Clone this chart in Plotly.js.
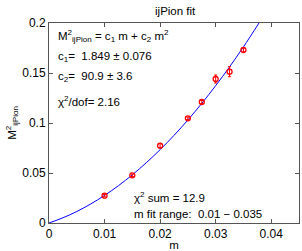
<!DOCTYPE html>
<html><head><meta charset="utf-8">
<script src="https://cdn.plot.ly/plotly-3.0.1.min.js"></script>
<style>html,body{margin:0;padding:0;background:#fff;}</style>
</head><body>
<div id="chart" style="width:302px;height:251px;"></div>
<script>
var mValues = [0.01, 0.015, 0.02, 0.025, 0.0275, 0.03, 0.0325, 0.035];
var m2Values = [0.0273, 0.0477, 0.0773, 0.1047, 0.121, 0.144, 0.1513, 0.173];
var m2Errors = [0.0012, 0.0012, 0.002, 0.0012, 0.0015, 0.004, 0.005, 0.002];
var fitX = [0, 0.0025, 0.005, 0.0075, 0.01, 0.0125, 0.015, 0.0175, 0.02, 0.0225, 0.025, 0.0275, 0.03, 0.0325, 0.035, 0.0378];
var fitY = [0, 0.0052, 0.0115, 0.0190, 0.0276, 0.0373, 0.0482, 0.0602, 0.0733, 0.0876, 0.1030, 0.1196, 0.1373, 0.1561, 0.1761, 0.2];
var xTicks = [0, 0.01, 0.02, 0.03, 0.04];
var yTicks = [0, 0.05, 0.1, 0.15, 0.2];

var font = {family: 'Liberation Sans, Arial, sans-serif', size: 11.5, color: '#000'};
var tickFont = {family: 'Liberation Sans, Arial, sans-serif', size: 12, color: '#000'};
var traces = [
  {x: fitX, y: fitY, mode: 'lines', line: {color: '#0000ff', width: 1, shape: 'spline'}, hoverinfo: 'skip'},
  {x: mValues, y: m2Values, mode: 'markers',
   marker: {symbol: 'circle-open', size: 5, color: '#ff0000', line: {width: 1.3, color: '#ff0000'}},
   error_y: {type: 'data', array: m2Errors, visible: true, color: '#ff0000', thickness: 1, width: 1.5}}
];
function ann(px, py, text) {
  return {xref: 'paper', yref: 'paper', x: (px - 49) / 250, y: (223 - py) / 200, xanchor: 'left', yanchor: 'middle',
    text: text, showarrow: false, font: font};
}
var layout = {
  width: 302, height: 251,
  margin: {l: 49, r: 3, t: 23, b: 28},
  paper_bgcolor: '#fff', plot_bgcolor: '#fff',
  showlegend: false,
  font: font,
  title: {text: 'ijPion fit', font: font, x: 0.58, xanchor: 'center', y: 0.955, yanchor: 'middle'},
  xaxis: {range: [0, 0.045], tickvals: xTicks, ticktext: xTicks.map(String), ticks: 'inside', ticklen: 4,
    showgrid: false, zeroline: false, showline: true, linecolor: '#555', linewidth: 1, mirror: 'ticks', tickcolor: '#555',
    tickfont: tickFont, title: {text: 'm', font: font, standoff: 1}},
  yaxis: {range: [0, 0.2], tickvals: yTicks, ticktext: yTicks.map(String), ticks: 'inside', ticklen: 4,
    showgrid: false, zeroline: false, showline: true, linecolor: '#555', linewidth: 1, mirror: 'ticks', tickcolor: '#555',
    tickfont: tickFont, title: {text: 'M<sup>2</sup><sub>ijPion</sub>', font: font, standoff: 3}},
  annotations: [
    ann(56, 36, 'M<sup>2</sup><sub>ijPion</sub> = c<sub>1</sub> m + c<sub>2</sub> m<sup>2</sup>'),
    ann(56, 57, 'c<sub>1</sub>=  1.849 ± 0.076'),
    ann(56, 77, 'c<sub>2</sub>=  90.9 ± 3.6'),
    ann(56, 101, 'χ<sup>2</sup>/dof= 2.16'),
    ann(132, 197, 'χ<sup>2</sup> sum = 12.9'),
    ann(132, 214, 'm fit range:  0.01 − 0.035')
  ]
};
Plotly.newPlot('chart', traces, layout, {staticPlot: true, displayModeBar: false});
</script>
</body></html>
